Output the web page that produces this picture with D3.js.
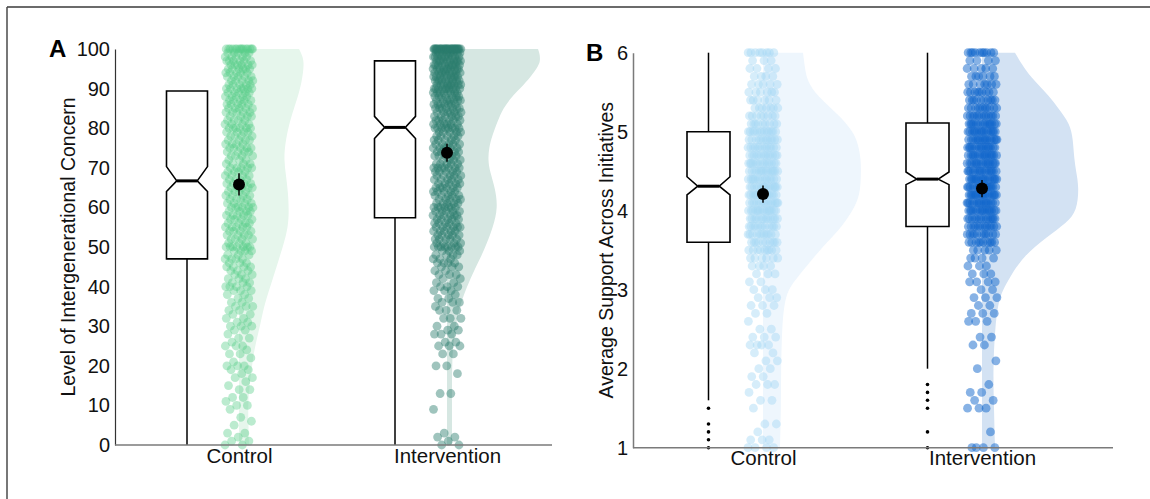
<!DOCTYPE html>
<html>
<head>
<meta charset="utf-8">
<script src="https://cdn.jsdelivr.net/npm/d3@7"></script>
<style>
  html, body { margin: 0; padding: 0; background: #fff; }
  svg { display: block; font-family: "Liberation Sans", Arial, sans-serif; }
</style>
</head>
<body>
<div id="chart"></div>
<script>
// ---- data ----
const groups = ['Control', 'Intervention'];

// panel A: number of respondents at each score 0..100
const concernControl = [
  2,2,1,2,0,1,1,1,0,1,
  2,1,2,0,2,1,1,2,1,2,
  3,1,1,2,1,3,1,2,1,2,
  3,2,2,2,2,3,2,2,2,3,
  4,3,3,3,3,4,3,4,3,4,
  7,3,4,4,4,5,4,4,5,4,
  6,4,4,4,4,5,4,4,4,4,
  5,4,3,4,4,5,4,4,4,4,
  6,4,4,4,5,5,5,5,5,5,
  7,5,5,5,5,6,6,6,5,5,
  15
];
const concernIntervention = [
  2,1,2,1,0,0,0,0,0,1,
  0,0,0,2,0,0,0,0,1,0,
  2,0,0,2,0,3,2,0,3,2,
  2,0,3,0,3,1,3,2,1,3,
  3,2,2,3,2,3,4,3,4,3,
  8,4,5,5,5,6,5,5,6,5,
  7,5,5,5,5,6,5,5,5,5,
  7,5,4,5,5,6,5,5,5,5,
  8,6,6,6,6,7,7,7,7,8,
  10,9,9,9,9,10,10,10,10,10,
  30
];

// panel B: number of respondents at each average 1.0, 1.1, ... 6.0
const supportControl = [
  4,3,1,2,0,1,2,1,3,2,
  2,2,2,4,3,2,1,2,3,3,
  3,2,3,4,6,9,10,11,12,13,
  15,14,15,15,14,15,14,13,13,12,
  13,9,8,7,6,6,5,4,4,3,
  8
];
const supportIntervention = [
  4,0,1,0,0,3,2,2,1,0,
  1,1,0,2,2,0,3,3,2,3,
  2,4,3,3,4,5,10,11,13,14,
  16,16,17,17,17,16,16,16,16,16,
  16,15,13,11,10,9,7,6,5,4,
  10
];

// box plots: [lower whisker, Q1, notch low, median, notch high, Q3, upper whisker]
const boxConcern = [
  [0, 47, 64, 66.7, 70.3, 89.4, 89.4],
  [0, 57.4, 77.4, 80.2, 83, 97, 97]
];
const boxSupport = [
  [1.6, 3.6, 4.2, 4.31, 4.43, 5.0, 6.0],
  [2.0, 3.8, 4.33, 4.4, 4.49, 5.11, 6.0]
];

// means with interval half-width
const meanConcern = [65.8, 73.8];
const ciConcern = [2.8, 2.3];
const meanSupport = [4.21, 4.28];
const ciSupport = [0.11, 0.11];

// half-violin density profiles [value, relative density]
const densConcernControl = [
  [0,.10],[5,.095],[9,.09],[14,.10],[18,.12],[22,.14],[26,.17],[30,.21],[35,.25],
  [39,.30],[43,.35],[47,.40],[51,.45],[55,.49],[59,.50],[64,.49],[68,.47],[72,.45],
  [76,.46],[81,.50],[85,.55],[88,.59],[92,.63],[96,.65],[98,.64],[100,.60]
];
const densConcernIntervention = [
  [0,.05],[10,.05],[22,.05],[27,.07],[32,.10],[36,.14],[40,.20],[44,.27],[47,.33],
  [51,.40],[55,.46],[60,.51],[65,.48],[69,.43],[72,.41],[75,.42],[78,.45],[82,.51],
  [85,.56],[88,.65],[90,.73],[93,.84],[96,.92],[97,.93],[98.5,.93],[100,.91]
];
const densSupportControl = [
  [1.0,.17],[1.5,.18],[2.0,.18],[2.5,.19],[2.8,.21],[3.0,.25],[3.15,.34],[3.35,.47],
  [3.55,.60],[3.75,.76],[4.0,.90],[4.2,.97],[4.45,.98],[4.65,.98],[4.85,.95],[5.0,.90],
  [5.2,.77],[5.45,.54],[5.65,.44],[5.8,.42],[6.0,.40]
];
const densSupportIntervention = [
  [1.0,.13],[1.5,.12],[2.0,.11],[2.5,.13],[2.83,.16],[3.0,.21],[3.16,.28],[3.42,.41],
  [3.67,.65],[3.85,.85],[4.0,.95],[4.3,.97],[4.5,.94],[4.68,.92],[4.9,.91],[5.1,.88],
  [5.3,.76],[5.44,.68],[5.7,.48],[5.85,.40],[6.0,.33]
];

const concernTicks = [0, 10, 20, 30, 40, 50, 60, 70, 80, 90, 100];
const supportTicks = [1, 2, 3, 4, 5, 6];

// ---- drawing ----
const W = 1150, H = 499;
const FONT = '"Liberation Sans", Arial, sans-serif';
const svg = d3.select('#chart').append('svg').attr('width', W).attr('height', H);

// outer frame (top and left edges only)
svg.append('line').attr('x1', 7).attr('x2', W).attr('y1', 7).attr('y2', 7)
  .attr('stroke', '#6b6b6b').attr('stroke-width', 2);
svg.append('line').attr('x1', 7).attr('x2', 7).attr('y1', 7).attr('y2', H)
  .attr('stroke', '#4a4a4a').attr('stroke-width', 1.5);

function expand(counts, start, step) {
  const out = [];
  counts.forEach((c, k) => {
    const v = +(start + k * step).toFixed(2);
    for (let j = 0; j < c; j++) out.push(v);
  });
  return out;
}

function drawPanel(cfg) {
  const g = svg.append('g');
  const y = d3.scaleLinear().domain(cfg.domain).range([cfg.bottom, cfg.top]);
  const x = d3.scalePoint().domain(groups).range(cfg.xRange);
  const w = d3.scaleLinear().domain([0, 1]).range([0, cfg.violinMax]);

  // violins
  const area = d3.area()
    .y(d => y(d[0]))
    .x0(0)
    .x1(d => w(d[1]))
    .curve(d3.curveBasis);
  groups.forEach((grp, i) => {
    g.append('path')
      .attr('transform', `translate(${x(grp)},0)`)
      .attr('d', area(cfg.dens[i]))
      .attr('fill', cfg.violinColors[i]);
  });

  // jittered points
  groups.forEach((grp, i) => {
    const vals = expand(cfg.counts[i], cfg.domain[0], cfg.step);
    g.append('g').selectAll('circle')
      .data(vals)
      .join('circle')
      .attr('cx', (d, k) => x(grp) + (((k * 0.6180339887 + 0.31 * i) % 1) - 0.5) * 2 * cfg.jitter)
      .attr('cy', d => y(d))
      .attr('r', 4.4)
      .attr('fill', cfg.pointColors[i])
      .attr('fill-opacity', cfg.pointAlpha[i]);
  });

  // mean + interval
  groups.forEach((grp, i) => {
    g.append('line')
      .attr('x1', x(grp)).attr('x2', x(grp))
      .attr('y1', y(cfg.mean[i] - cfg.ci[i])).attr('y2', y(cfg.mean[i] + cfg.ci[i]))
      .attr('stroke', '#000').attr('stroke-width', 1.5);
    g.append('circle')
      .attr('cx', x(grp)).attr('cy', y(cfg.mean[i]))
      .attr('r', 6).attr('fill', '#000');
  });

  // notched box plots
  const hw = cfg.boxHalf, nw = cfg.boxHalf / 2;
  groups.forEach((grp, i) => {
    const [lo, q1, nl, med, nh, q3, hi] = cfg.box[i];
    const cx = x(grp) + cfg.boxOffset;
    if (hi > q3) {
      g.append('line').attr('x1', cx).attr('x2', cx).attr('y1', y(q3)).attr('y2', y(hi))
        .attr('stroke', '#000').attr('stroke-width', 1.5);
    }
    g.append('line').attr('x1', cx).attr('x2', cx).attr('y1', y(q1)).attr('y2', y(lo))
      .attr('stroke', '#000').attr('stroke-width', 1.5);
    const pts = [
      [cx - hw, y(q1)], [cx - hw, y(nl)], [cx - nw, y(med)], [cx - hw, y(nh)],
      [cx - hw, y(q3)], [cx + hw, y(q3)], [cx + hw, y(nh)], [cx + nw, y(med)],
      [cx + hw, y(nl)], [cx + hw, y(q1)]
    ];
    g.append('path')
      .attr('d', d3.line()(pts) + 'Z')
      .attr('fill', '#fff').attr('stroke', '#000').attr('stroke-width', 1.6);
    g.append('line').attr('x1', cx - nw).attr('x2', cx + nw).attr('y1', y(med)).attr('y2', y(med))
      .attr('stroke', '#000').attr('stroke-width', 3);
    // outliers below the lower whisker
    const vals = expand(cfg.counts[i], cfg.domain[0], cfg.step);
    const outs = Array.from(new Set(vals.filter(v => v < lo - 1e-9)));
    g.append('g').selectAll('circle').data(outs).join('circle')
      .attr('cx', cx).attr('cy', d => y(d)).attr('r', 1.8).attr('fill', '#000');
  });

  // axes
  const ya = g.append('g')
    .attr('transform', `translate(${cfg.left},0)`)
    .call(d3.axisLeft(y).tickValues(cfg.ticks).tickSize(0).tickPadding(5).tickFormat(d3.format('d')));
  ya.select('.domain').attr('stroke', cfg.yAxisColor).attr('stroke-width', cfg.yAxisWidth);
  ya.selectAll('text').attr('font-size', 20).attr('fill', '#111').attr('font-family', FONT);

  g.append('line')
    .attr('x1', cfg.left).attr('x2', cfg.right)
    .attr('y1', cfg.bottom).attr('y2', cfg.bottom)
    .attr('stroke', '#7a7a7a').attr('stroke-width', 1.5);

  const xa = g.append('g')
    .attr('transform', `translate(0,${cfg.bottom})`)
    .call(d3.axisBottom(x).tickSize(0).tickPadding(3));
  xa.select('.domain').remove();
  xa.selectAll('text').attr('font-size', 20.5).attr('fill', '#111').attr('font-family', FONT);

  g.append('text')
    .attr('transform', `translate(${cfg.titleX},${(cfg.top + cfg.bottom) / 2}) rotate(-90)`)
    .attr('text-anchor', 'middle')
    .attr('font-size', 19.5).attr('fill', '#111')
    .text(cfg.title);

  g.append('text')
    .attr('x', cfg.labelX).attr('y', cfg.top + 8)
    .attr('font-size', 24).attr('font-weight', 'bold').attr('fill', '#000')
    .text(cfg.label);
}

drawPanel({
  label: 'A', labelX: 49,
  title: 'Level of Intergenerational Concern', titleX: 75,
  domain: [0, 100], step: 1, ticks: concernTicks,
  top: 49, bottom: 445, left: 115, right: 552,
  xRange: [239, 447],
  counts: [concernControl, concernIntervention],
  dens: [densConcernControl, densConcernIntervention],
  box: boxConcern, mean: meanConcern, ci: ciConcern,
  violinMax: 100, jitter: 14, boxHalf: 20.5, boxOffset: -52,
  violinColors: ['#e6f6ec', '#d6e7e2'],
  pointColors: ['#55cc86', '#2b7d6c'],
  pointAlpha: [0.4, 0.45],
  yAxisColor: '#333', yAxisWidth: 1.2
});

drawPanel({
  label: 'B', labelX: 586,
  title: 'Average Support Across Initiatives', titleX: 613,
  domain: [1, 6], step: 0.1, ticks: supportTicks,
  top: 52.7, bottom: 447.7, left: 633, right: 1113,
  xRange: [763, 982],
  counts: [supportControl, supportIntervention],
  dens: [densSupportControl, densSupportIntervention],
  box: boxSupport, mean: meanSupport, ci: ciSupport,
  violinMax: 100, jitter: 15, boxHalf: 21.5, boxOffset: -54.5,
  violinColors: ['#eef6fd', '#d3e2f3'],
  pointColors: ['#a3d8f4', '#1066cc'],
  pointAlpha: [0.45, 0.5],
  yAxisColor: '#7a7a7a', yAxisWidth: 1.5
});
</script>
</body>
</html>
